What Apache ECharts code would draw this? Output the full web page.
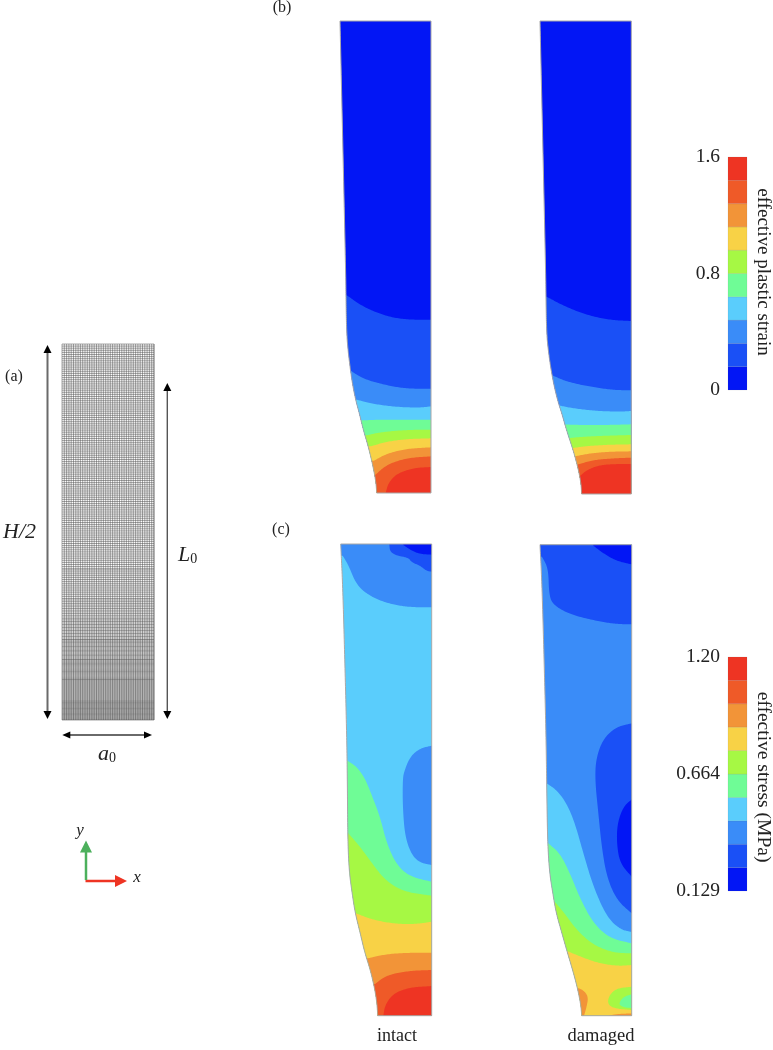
<!DOCTYPE html>
<html><head><meta charset="utf-8">
<style>html,body{margin:0;padding:0;background:#fff}#c{width:773px;height:1050px}</style>
<script src="https://cdn.jsdelivr.net/npm/echarts@6/dist/echarts.min.js"></script>
</head><body><div id="c"></div>
<script>
// Contour levels, lowest to highest
const levelColors = ['#0216F5','#1A50F6','#3A8CF8','#5ACDFC','#6FFC96','#A6F844','#F8D246','#F29438','#EF5A28','#EE3423'];

// Specimen profiles: left edge from top to notch root (specimen units)
const strainIntactEdge = [[0,1416],[17,670],[18,579],[20,479],[24,429],[30,379],[37,329],[47,279],[58,239],[70,189],[85,139],[97,89],[105,49],[109,19],[110,0]];
const strainDamagedEdge = [[0,1419],[17,672],[18,580],[20,480],[25,430],[32,380],[41,330],[53,280],[66,240],[80,190],[97,140],[111,90],[120,50],[124,20],[125,0]];
const stressIntactEdge = [[0,1415],[6,1292],[13,1042],[18,842],[20,707],[21,560],[23,480],[27,420],[34,370],[43,310],[58,250],[72,190],[88,140],[100,90],[107,50],[110,20],[111,0]];
const stressDamagedEdge = [[0,1413],[6,1292],[13,1042],[18,842],[20,707],[22,560],[25,480],[30,420],[38,370],[48,310],[65,250],[82,190],[100,130],[113,80],[121,40],[124,15],[125,0]];

// Contours: [level, side to close towards, boundary]
const strainIntactContours = [
 [1,'b',[[18,595],[70,558],[140,530],[200,520],[273,520]]],
 [2,'b',[[32,367],[70,342],[140,323],[200,313],[273,313]]],
 [3,'b',[[50,280],[100,267],[170,258],[240,256],[273,260]]],
 [4,'b',[[67,218],[120,220],[200,220],[273,220]]],
 [5,'b',[[80,173],[120,182],[190,189],[273,190]]],
 [6,'b',[[92,140],[140,154],[200,162],[273,164]]],
 [7,'b',[[102,97],[140,118],[200,133],[273,137]]],
 [8,'b',[[107,55],[140,85],[200,105],[273,110]]],
 [9,'br',[[137,0],[145,30],[170,58],[220,75],[273,78]]]
];
const strainDamagedContours = [
 [1,'b',[[20,592],[70,565],[140,537],[210,522],[274,519]]],
 [2,'b',[[35,357],[80,337],[150,322],[220,312],[274,311]]],
 [3,'b',[[50,267],[100,257],[170,249],[240,247],[274,249]]],
 [4,'b',[[65,209],[120,207],[200,207],[274,209]]],
 [5,'b',[[80,167],[130,172],[200,175],[274,177]]],
 [6,'b',[[92,137],[140,144],[210,148],[274,149]]],
 [7,'b',[[100,112],[150,122],[210,127],[274,128]]],
 [8,'b',[[108,87],[160,102],[220,107],[274,109]]],
 [9,'b',[[118,52],[140,72],[180,87],[230,90],[274,90]]]
];
const stressIntactContours = [
 [2,'t',[[6,1380],[23,1352],[43,1302],[68,1272],[118,1244],[178,1229],[228,1225],[273,1225]]],
 [1,'tr',[[146,1412],[148,1392],[168,1380],[203,1374],[213,1360],[238,1350],[258,1334],[273,1332]]],
 [0,'tr',[[188,1412],[213,1395],[238,1385],[273,1383]]],
 [2,'r',[[273,810],[238,802],[208,777],[190,732],[186,707],[186,627],[193,537],[213,482],[238,459],[273,452]]],
 [4,'b',[[20,765],[48,747],[73,712],[93,662],[118,597],[138,517],[168,452],[208,417],[273,402]]],
 [5,'b',[[23,547],[58,507],[98,452],[133,407],[188,372],[273,360]]],
 [6,'b',[[46,307],[98,287],[168,275],[228,275],[273,282]]],
 [7,'b',[[81,172],[138,185],[208,189],[273,189]]],
 [8,'b',[[103,95],[138,122],[208,135],[273,137]]],
 [9,'br',[[128,0],[133,32],[158,67],[208,85],[273,89]]]
];
const stressDamagedContours = [
 [1,'t',[[6,1377],[25,1342],[27,1262],[40,1232],[90,1204],[170,1184],[230,1175],[275,1174]]],
 [0,'tr',[[160,1410],[190,1387],[230,1364],[275,1354]]],
 [1,'r',[[275,877],[230,867],[190,832],[168,772],[165,707],[175,607],[185,507],[200,417],[230,347],[275,307]]],
 [0,'r',[[275,649],[250,627],[232,577],[230,517],[240,457],[275,417]]],
 [3,'b',[[20,697],[50,677],[80,637],[105,577],[130,487],[160,387],[200,297],[240,259],[275,251]]],
 [4,'b',[[25,517],[60,487],[90,427],[120,352],[160,277],[210,232],[275,217]]],
 [5,'b',[[35,352],[70,312],[110,257],[160,212],[220,189],[275,187]]],
 [6,'b',[[67,200],[110,182],[170,159],[230,149],[275,152]]],
 [7,'bl',[[108,85],[130,77],[145,57],[140,27],[132,0]]],
 [5,'r',[[275,87],[230,82],[208,62],[202,37],[220,22],[275,17]]],
 [4,'r',[[275,64],[250,57],[235,35],[250,25],[275,23]]],
 [7,'br',[[205,0],[230,5],[275,7]]]
];

// Colour bars
const strainLevels = [0,0.16,0.32,0.48,0.64,0.8,0.96,1.12,1.28,1.44,1.6];
const strainTickValues = [0,0.8,1.6];
const strainTickLabels = ['0','0.8','1.6'];
const stressLevels = [0.129,0.236,0.343,0.45,0.557,0.664,0.772,0.879,0.986,1.093,1.2];
const stressTickValues = [0.129,0.664,1.2];
const stressTickLabels = ['0.129','0.664','1.20'];

// Mesh of the half specimen: [from, to, element size] along each direction
const meshRowSpans = [[376,150,2.1],[150,120,1.9],[120,100,1.7],[100,80,1.5],[80,60,1.3],[60,40,1.15],[40,20,1],[20,0,0.85]];
const meshColumnSpans = [[0,92,2.3]];
// Dimension and coordinate arrows: [x0,y0,x1,y1]
const heightArrow = [-14.5,1,-14.5,375];
const gaugeArrow = [105.3,1,105.3,337];
const widthArrow = [0.3,-15,90,-15];
const axisXArrow = [23.5,-161,65,-161];
const axisYArrow = [24,-160,24,-120.5];

function expand(spans){const o=[];spans.forEach(s=>{const d=s[1]>s[0]?1:-1;for(let v=s[0];d*(v-s[1])<0;v+=d*s[2])o.push(+v.toFixed(2));});return o;}
const meshRows = expand(meshRowSpans).concat([0]);
const meshColumns = expand(meshColumnSpans).concat([92]);

// Rounds a polyline by corner cutting; its two ends stay where they are
function spline(p){
  let q=p;
  for(let n=0;n<4;n++){
    const o=[q[0]];
    for(let i=0;i<q.length-1;i++){
      const a=q[i],b=q[i+1];
      o.push([a[0]*0.75+b[0]*0.25,a[1]*0.75+b[1]*0.25],[a[0]*0.25+b[0]*0.75,a[1]*0.25+b[1]*0.75]);
    }
    o.push(q[q.length-1]);
    q=o;
  }
  return q;
}

function panelSeries(gridIndex,W,H,edge,base,contours){
  const m=30;
  function closure(kind,pts){
    const f=pts[0],l=pts[pts.length-1];
    if(kind==='b') return [[W+m,l[1]],[W+m,-m],[-m,-m],[-m,f[1]]];
    if(kind==='t') return [[W+m,l[1]],[W+m,H+m],[-m,H+m],[-m,f[1]]];
    if(kind==='tr') return [[W+m,l[1]],[W+m,H+m],[f[0],H+m]];
    if(kind==='r') return [[W+m,l[1]],[W+m,f[1]]];
    if(kind==='br') return [[W+m,l[1]],[W+m,-m],[f[0],-m]];
    if(kind==='bl') return [[l[0],-m],[-m,-m],[-m,f[1]]];
    return [];
  }
  const corners=[[W,0],[W,H]];
  return {
    type:'custom',coordinateSystem:'cartesian2d',xAxisIndex:gridIndex,yAxisIndex:gridIndex,silent:true,
    data:[-1].concat(contours.map((c,i)=>i)).concat([-2]).map(i=>[i]),
    encode:{x:[],y:[]},
    renderItem(params,api){
      const toPx=a=>a.map(q=>api.coord(q));
      const outline=spline(toPx(edge)).concat(toPx(corners));
      const i=api.value(0);
      if(i===-1) return {type:'polygon',shape:{points:outline},style:{fill:levelColors[base],stroke:null}};
      if(i===-2) return {type:'polygon',shape:{points:outline},style:{fill:'none',stroke:'#a8a8a8',lineWidth:1}};
      const c=contours[i];
      const pts=spline(toPx(c[2])).concat(toPx(closure(c[1],c[2])));
      return {type:'polygon',shape:{points:pts},style:{fill:levelColors[c[0]],stroke:null},
        clipPath:{type:'polygon',shape:{points:outline}}};
    }
  };
}

function colorbarSeries(gridIndex,levels){
  return {
    type:'custom',xAxisIndex:gridIndex,yAxisIndex:gridIndex,silent:true,
    data:levels.slice(0,-1).map((v,i)=>[0,v,levels[i+1],i]),
    encode:{x:0,y:[1,2]},
    renderItem(params,api){
      const a=api.coord([0,api.value(1)]),b=api.coord([1,api.value(2)]);
      return {type:'rect',shape:{x:a[0],y:b[1],width:b[0]-a[0],height:a[1]-b[1]},
        style:{fill:levelColors[api.value(3)],stroke:'rgba(90,90,90,0.18)',lineWidth:0.6}};
    }
  };
}

function arrowEl(api,arrow,shaft,head,lw,hl,hw,both){
  const s=api.coord([arrow[0],arrow[1]]),e=api.coord([arrow[2],arrow[3]]);
  const dx=e[0]-s[0],dy=e[1]-s[1],L=Math.hypot(dx,dy),ux=dx/L,uy=dy/L;
  const tri=(t,sx,sy)=>({type:'polygon',shape:{points:[t,[t[0]-sx*hl-uy*hw/2*1,t[1]-sy*hl+ux*hw/2],[t[0]-sx*hl+uy*hw/2,t[1]-sy*hl-ux*hw/2]]},style:{fill:head}});
  const kids=[{type:'line',shape:{x1:s[0]+(both?ux*hl/2:0),y1:s[1]+(both?uy*hl/2:0),x2:e[0]-ux*hl/2,y2:e[1]-uy*hl/2},style:{stroke:shaft,lineWidth:lw}},tri(e,ux,uy)];
  if(both) kids.push(tri(s,-ux,-uy));
  return {type:'group',children:kids};
}

const axes=(n,xr,yr)=>({x:{gridIndex:n,type:'value',min:xr[0],max:xr[1],show:false},y:{gridIndex:n,type:'value',min:yr[0],max:yr[1],show:false}});
const panels=[
 {left:62,top:344,width:92,height:376,xr:[0,92],yr:[0,376]},
 {left:340,top:21,width:91,height:472,xr:[0,273],yr:[0,1416]},
 {left:540,top:21,width:91.3,height:473,xr:[0,274],yr:[0,1419]},
 {left:340.7,top:544,width:91,height:471.7,xr:[0,273],yr:[0,1415]},
 {left:540,top:544.7,width:91.7,height:471,xr:[0,275],yr:[0,1413]}
];
const grids=panels.map(p=>({left:p.left,top:p.top,width:p.width,height:p.height,containLabel:false}));
const xAxes=panels.map((p,i)=>axes(i,p.xr,p.yr).x);
const yAxes=panels.map((p,i)=>axes(i,p.xr,p.yr).y);

function addBar(top,height,levels,values,labels){
  const n=grids.length;
  grids.push({left:728,top:top,width:19,height:height,containLabel:false});
  xAxes.push({gridIndex:n,type:'value',min:0,max:1,show:false});
  yAxes.push({gridIndex:n,type:'value',min:levels[0],max:levels[levels.length-1],
    axisLine:{show:false},axisTick:{show:false},splitLine:{show:false},
    axisLabel:{show:true,customValues:values,margin:8,color:'#222',fontFamily:'Liberation Serif',fontSize:19.5,
      formatter:(v,i)=>labels[values.indexOf(v)]}});
  return n;
}
const strainBar=addBar(157,233,strainLevels,strainTickValues,strainTickLabels);
const stressBar=addBar(657,234,stressLevels,stressTickValues,stressTickLabels);

const serif='Liberation Serif';
const T=(x,y,text,size,extra)=>Object.assign({type:'text',x,y,silent:true,style:Object.assign({text,fill:'#222',font:size+'px "'+serif+'"',textAlign:'center',textVerticalAlign:'middle'},extra&&extra.style||{})},extra&&extra.el||{});
const it=s=>({fontFamily:serif,fontStyle:'italic',fontSize:s,fill:'#222'});
const graphics=[
 T(14,377,'(a)',16),T(282,8,'(b)',16),T(281,530,'(c)',16),
 T(397,1036,'intact',18),T(601,1036,'damaged',18.5),
 T(763,272,'effective plastic strain',19,{el:{rotation:-Math.PI/2}}),
 T(763,777,'effective stress (MPa)',19.5,{el:{rotation:-Math.PI/2}}),
 {type:'text',x:3,y:532,silent:true,style:{text:'{i|H/2}',rich:{i:it(22)},textVerticalAlign:'middle'}},
 {type:'text',x:178,y:555,silent:true,style:{text:'{i|L}{s|0}',rich:{i:it(22),s:{fontFamily:serif,fontSize:14,fill:'#222',padding:[8,0,0,0]}},textVerticalAlign:'middle'}},
 {type:'text',x:98,y:754,silent:true,style:{text:'{i|a}{s|0}',rich:{i:it(22),s:{fontFamily:serif,fontSize:14,fill:'#222',padding:[8,0,0,0]}},textVerticalAlign:'middle'}},
 T(80,831,'y',17,{style:{font:'italic 17px "'+serif+'"'}}),
 T(137,878,'x',17,{style:{font:'italic 17px "'+serif+'"'}})
];

const meshLines=meshRows.map(v=>[0,v,92,v]).concat(meshColumns.map(v=>[v,0,v,376]));
const meshSeries={
  type:'custom',xAxisIndex:0,yAxisIndex:0,silent:true,
  data:meshLines,encode:{x:[0,2],y:[1,3]},
  renderItem(params,api){
    const a=api.coord([api.value(0),api.value(1)]),b=api.coord([api.value(2),api.value(3)]);
    return {type:'line',shape:{x1:a[0],y1:a[1],x2:b[0],y2:b[1]},style:{stroke:'rgba(80,80,80,0.5)',lineWidth:1}};
  }
};
const arrowSeries={
  type:'custom',xAxisIndex:0,yAxisIndex:0,silent:true,
  data:[[0],[1],[2],[3],[4]],encode:{x:[],y:[]},
  renderItem(params,api){
    const i=api.value(0);
    if(i===0) return arrowEl(api,heightArrow,'#6a6a6a','#000',2,8,8,true);
    if(i===1) return arrowEl(api,gaugeArrow,'#555','#000',1.4,8,8,true);
    if(i===2) return arrowEl(api,widthArrow,'#6a6a6a','#000',2,8,7,true);
    if(i===3) return arrowEl(api,axisXArrow,'#EE3423','#EE3423',2.5,12,12,false);
    return arrowEl(api,axisYArrow,'#4CB05C','#4CB05C',2.5,12,12,false);
  }
};

const chart=echarts.init(document.getElementById('c'),null,{renderer:'canvas'});
chart.setOption({
  animation:false,backgroundColor:'#fff',
  grid:grids,xAxis:xAxes,yAxis:yAxes,
  series:[
    meshSeries,arrowSeries,
    panelSeries(1,273,1416,strainIntactEdge,0,strainIntactContours),
    panelSeries(2,274,1419,strainDamagedEdge,0,strainDamagedContours),
    panelSeries(3,273,1415,stressIntactEdge,3,stressIntactContours),
    panelSeries(4,275,1413,stressDamagedEdge,2,stressDamagedContours),
    colorbarSeries(strainBar,strainLevels),
    colorbarSeries(stressBar,stressLevels)
  ],
  graphic:{elements:graphics}
});
</script></body></html>
